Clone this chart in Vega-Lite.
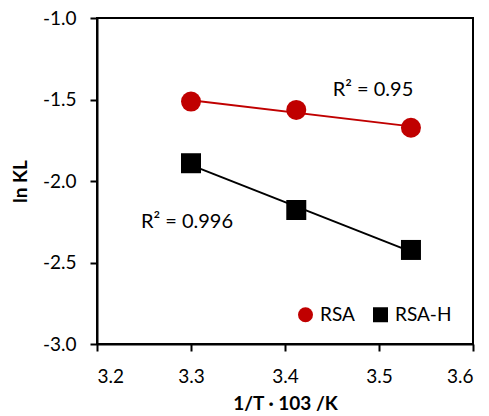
{
  "$schema": "https://vega.github.io/schema/vega-lite/v6.json",
  "width": 376,
  "height": 326,
  "autosize": {"type": "none"},
  "padding": {"left": 97, "top": 18, "right": 16, "bottom": 72},
  "background": "white",
  "config": {
    "font": "Lato",
    "view": {"stroke": "#000000", "strokeWidth": 2},
    "axis": {
      "grid": false,
      "domainColor": "#000000",
      "domainWidth": 2,
      "tickColor": "#000000",
      "tickWidth": 2,
      "tickSize": 7,
      "labelFont": "Lato",
      "labelFontSize": 19,
      "labelColor": "#000000",
      "titleFont": "Lato",
      "titleFontSize": 19,
      "titleFontWeight": "bold",
      "titleColor": "#000000"
    }
  },
  "datasets": {
    "pts": [
      {"x": 3.300, "y": -1.513, "series": "RSA"},
      {"x": 3.412, "y": -1.564, "series": "RSA"},
      {"x": 3.534, "y": -1.673, "series": "RSA"},
      {"x": 3.300, "y": -1.891, "series": "RSA-H"},
      {"x": 3.412, "y": -2.178, "series": "RSA-H"},
      {"x": 3.534, "y": -2.423, "series": "RSA-H"}
    ],
    "notes": [
      {"x": 3.4936, "y": -1.442, "label": "R² = 0.95"},
      {"x": 3.2957, "y": -2.252, "label": "R² = 0.996"}
    ]
  },
  "layer": [
    {
      "data": {"name": "pts"},
      "transform": [{"filter": "datum.series === 'RSA'"}, {"regression": "y", "on": "x"}],
      "mark": {"type": "line", "strokeWidth": 2, "color": "#C00000"},
      "encoding": {
        "x": {"field": "x", "type": "quantitative"},
        "y": {"field": "y", "type": "quantitative"}
      }
    },
    {
      "data": {"name": "pts"},
      "transform": [{"filter": "datum.series === 'RSA-H'"}, {"regression": "y", "on": "x"}],
      "mark": {"type": "line", "strokeWidth": 2, "color": "#000000"},
      "encoding": {
        "x": {"field": "x", "type": "quantitative"},
        "y": {"field": "y", "type": "quantitative"}
      }
    },
    {
      "data": {"name": "pts"},
      "mark": {"type": "point", "filled": true, "opacity": 1, "size": 400},
      "encoding": {
        "x": {
          "field": "x", "type": "quantitative",
          "scale": {"domain": [3.2, 3.6], "nice": false, "zero": false},
          "axis": {"values": [3.2, 3.3, 3.4, 3.5, 3.6], "format": ".1f", "title": "1/T · 103 /K", "labelPadding": 16, "titlePadding": 8}
        },
        "y": {
          "field": "y", "type": "quantitative",
          "scale": {"domain": [-3, -1], "nice": false, "zero": false},
          "axis": {"values": [-3, -2.5, -2, -1.5, -1], "format": ".1f", "labelExpr": "replace(datum.label, '−', '-')", "title": "ln KL", "labelPadding": 14, "titlePadding": 12}
        },
        "color": {
          "field": "series", "type": "nominal",
          "scale": {"domain": ["RSA", "RSA-H"], "range": ["#C00000", "#000000"]},
          "legend": {
            "title": null,
            "orient": "none",
            "direction": "horizontal",
            "legendX": 199,
            "legendY": 287,
            "padding": 0,
            "labelFont": "Lato",
            "labelFontSize": 19,
            "labelColor": "#000000",
            "symbolSize": 225,
            "symbolStrokeWidth": 0,
            "labelOffset": 5,
            "columnPadding": 16
          }
        },
        "shape": {
          "field": "series", "type": "nominal",
          "scale": {"domain": ["RSA", "RSA-H"], "range": ["circle", "square"]}
        }
      }
    },
    {
      "data": {"name": "notes"},
      "mark": {"type": "text", "font": "Lato", "fontSize": 20, "color": "#000000", "align": "center", "baseline": "middle"},
      "encoding": {
        "x": {"field": "x", "type": "quantitative"},
        "y": {"field": "y", "type": "quantitative"},
        "text": {"field": "label"}
      }
    }
  ]
}
